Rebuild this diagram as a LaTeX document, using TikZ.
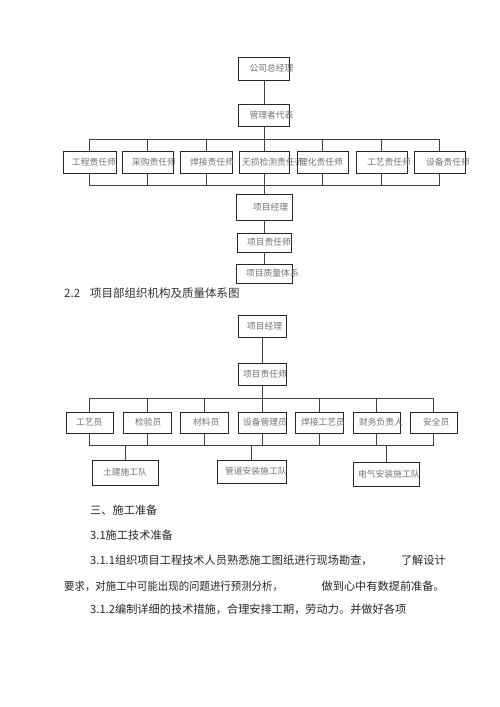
\documentclass[tikz,border=0pt]{standalone}
\usepackage{fontspec}
\newfontfamily\cjk{Noto Sans CJK SC}
\usepackage{graphicx}
\usepackage{tikz}
\usetikzlibrary{calc}

% box text: fixed width, text pushed right (may stick out)
\newcommand{\boxtxt}[3]{\makebox[#1pt][l]{\hspace*{#2pt}#3}}

\begin{document}
\begin{tikzpicture}[x=1pt,y=-1pt,
  orgbox/.style={draw=black!85,line width=0.9pt,inner sep=0pt,text=black!55,
    font=\cjk\fontsize{8.8}{9}\selectfont},
  link/.style={draw=black!75,line width=0.7pt},
  para/.style={anchor=west,inner sep=0pt,text=black!85,
    font=\cjk\fontsize{11.2}{12}\selectfont}]
\fill[white] (0,0) rectangle (500,707);
\useasboundingbox (0,0) rectangle (500,707);

%%%%% Chart 1 %%%%%
\node[orgbox,minimum height=23] (gm) at (264,68.5) {\boxtxt{51}{11}{公司总经理}};
\node[orgbox,minimum height=22] (rep) at (264,115) {\boxtxt{51}{11}{管理者代表}};
\foreach \n/\x/\w/\o/\t in {c1/89.5/53/9/工程责任师, c2/147.5/51/10/采购责任师,
  c3/206/52/10/焊接责任师, c4/264/50/3/无损检测责任师, c5/322.5/51/2/理化责任师,
  c6/381.5/51/11/工艺责任师, c7/439.5/51/12/设备责任师}{
\node[orgbox,minimum height=22] (\n) at (\x,162) {\boxtxt{\w}{\o}{\t}};
}
\node[orgbox,minimum height=26] (pm) at (264,207) {\boxtxt{56}{17}{项目经理}};
\node[orgbox,minimum height=19] (pe) at (264,242.5) {\boxtxt{54}{10}{项目责任师}};
\node[orgbox,minimum height=19] (qs) at (264,273.5) {\boxtxt{56}{10}{项目质量体系}};
\coordinate (busA) at (0,139);
\coordinate (busB) at (0,185);
\draw[link] (gm) -- (rep);
\draw[link] (rep) -- (c4);
\draw[link] (c1.north) |- (c7.north |- busA) -- (c7.north);
\draw[link] (c1.south) |- (c7.south |- busB) -- (c7.south);
\foreach \n in {c2,c3,c5,c6}{
\draw[link] (\n.north) -- (\n.north |- busA);
\draw[link] (\n.south) -- (\n.south |- busB);
}
\draw[link] (c4) -- (pm);
\draw[link] (pm) -- (pe);
\draw[link] (pe) -- (qs);

%%%%% Heading %%%%%
\node[para,text=black!80,font=\cjk\fontsize{11.5}{12}\selectfont] (hnum) at (64,293) {2.2};
\node[para,text=black!80,font=\cjk\fontsize{11.5}{12}\selectfont] (htxt) at (90,293) {项目部组织机构及质量体系图};

%%%%% Chart 2 %%%%%
\node[orgbox,minimum height=22] (p2m) at (262,326) {\boxtxt{48}{9}{项目经理}};
\node[orgbox,minimum height=22] (p2e) at (262,374) {\boxtxt{48}{5}{项目责任师}};
\foreach \n/\x/\w/\o/\t in {d1/89.5/47/10/工艺员, d2/147/48/12/检验员,
  d3/204/48/13/材料员, d4/262/48/5/设备管理员, d5/319/48/6/焊接工艺员,
  d6/376.5/47/6/财务负责人, d7/433.5/47/13/安全员}{
\node[orgbox,minimum height=21] (\n) at (\x,422.5) {\boxtxt{\w}{\o}{\t}};
}
\node[orgbox,minimum height=25] (e1) at (125,472.5) {\boxtxt{66}{11}{土建施工队}};
\node[orgbox,minimum height=23] (e2) at (251.5,471.5) {\boxtxt{69}{8}{管道安装施工队}};
\node[orgbox,minimum height=24] (e3) at (386,474) {\boxtxt{66}{5}{电气安装施工队}};
\coordinate (busC) at (0,398);
\coordinate (busD) at (0,445);
\draw[link] (p2m) -- (p2e);
\draw[link] (p2e) -- (d4);
\draw[link] (d1.north) |- (d7.north |- busC) -- (d7.north);
\draw[link] (d1.south) |- (d7.south |- busD) -- (d7.south);
\foreach \n in {d2,d3,d5,d6}{
\draw[link] (\n.north) -- (\n.north |- busC);
\draw[link] (\n.south) -- (\n.south |- busD);
}
\draw[link] (d4.south) -- (d4.south |- busD);
\foreach \n in {e1,e2,e3}{
\draw[link] (\n.north) -- (\n.north |- busD);
}

%%%%% Text %%%%%
\node[para] (s3) at (90,510) {三、施工准备};
\node[para] (s31) at (90,535) {3.1施工技术准备};
\node[para] (s311a) at (90,560) {3.1.1组织项目工程技术人员熟悉施工图纸进行现场勘查，};
\node[para,anchor=east] (s311b) at (446,560) {了解设计};
\node[para] (s311c) at (64,586) {\scalebox{0.93}[1]{要求，对施工中可能出现的问题进行预测分析，}};
\node[para,anchor=east] (s311d) at (445,586) {做到心中有数提前准备。};
\node[para] (s312) at (90,609) {3.1.2编制详细的技术措施，合理安排工期，劳动力。并做好各项};

\end{tikzpicture}
\end{document}
